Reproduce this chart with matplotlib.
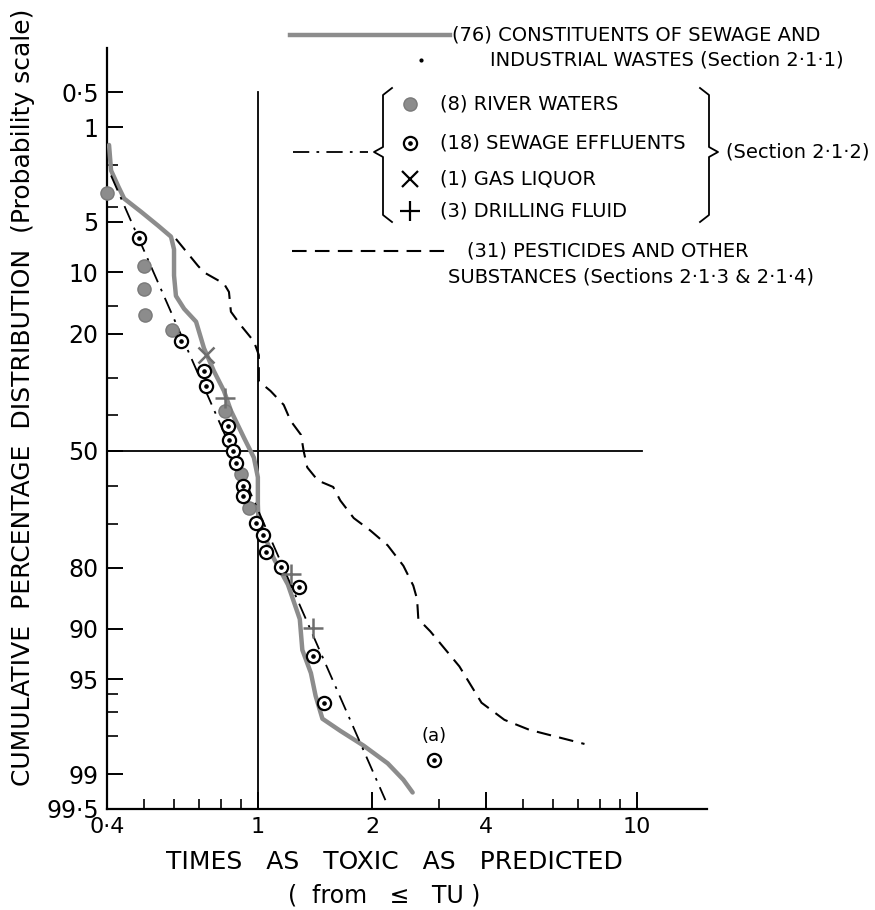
import math
import numpy as np
import matplotlib
matplotlib.use('Agg')
import matplotlib.pyplot as plt
from matplotlib.lines import Line2D
from matplotlib.ticker import NullFormatter

plt.rcParams['font.family'] = ['DejaVu Sans']

# ---- data (x = times as toxic, p = cumulative %) ----
river_x = [0.40, 0.50, 0.50, 0.505, 0.594, 0.82, 0.90, 0.95]
river_p = [3.2, 9.2, 12.2, 16.4, 19.2, 38.7, 56.8, 66.0]

sewage_x = [0.486, 0.627, 0.721, 0.73, 0.834, 0.839, 0.86, 0.875, 0.913,
            0.913, 0.988, 1.03, 1.05, 1.15, 1.28, 1.40, 1.49, 2.92]
sewage_p = [6.3, 21.6, 28.4, 32.1, 42.9, 46.9, 50.0, 53.4, 60.1,
            62.9, 69.9, 72.9, 76.6, 79.8, 83.6, 93.0, 96.5, 98.7]

gas_x = [0.73]
gas_p = [24.6]

drill_x = [0.82, 1.22, 1.40]
drill_p = [35.2, 81.2, 89.9]

const_x = [0.405, 0.410, 0.429, 0.444, 0.492, 0.546, 0.590, 0.601, 0.601,
           0.608, 0.639, 0.687, 0.721, 0.766, 0.814, 0.849, 0.919, 0.976,
           1.0, 1.0, 1.003, 1.037, 1.10, 1.20, 1.29, 1.31, 1.38, 1.42,
           1.48, 1.65, 1.90, 2.20, 2.42, 2.56]
const_p = [1.4, 2.2, 2.9, 3.5, 4.3, 5.3, 6.2, 7.4, 10.4,
           13.3, 15.4, 17.7, 23.1, 28.4, 33.4, 38.7, 46.3, 52.0,
           57.6, 65.0, 68.5, 72.6, 78.0, 83.2, 88.7, 92.4, 94.5, 96.1,
           97.3, 97.8, 98.3, 98.77, 99.1, 99.3]

fit_x = [0.41, 2.17]
fit_p = [2.4, 99.4]

pest_x = [0.608, 0.695, 0.721, 0.814, 0.839, 0.849, 0.902, 0.976, 1.006,
          1.006, 1.08, 1.17, 1.22, 1.30, 1.32, 1.35, 1.44, 1.58, 1.65,
          1.79, 1.98, 2.20, 2.42, 2.57, 2.63, 2.65, 2.85, 3.40, 3.89,
          4.47, 5.20, 7.27]
pest_p = [6.4, 9.2, 10.0, 11.5, 12.7, 15.9, 18.4, 21.6, 24.6,
          30.9, 33.4, 37.1, 41.5, 45.5, 50.0, 54.8, 58.5, 60.3, 64.0,
          68.6, 71.7, 75.2, 79.6, 83.4, 85.7, 88.7, 90.3, 93.95, 96.5,
          97.35, 97.76, 98.25]

y_major = [0.5, 1, 5, 10, 20, 50, 80, 90, 95, 99, 99.5]
y_major_lab = ['0·5', '1', '5', '10', '20', '50', '80', '90', '95', '99', '99·5']
y_minor = [2, 4, 15, 30, 40, 60, 70, 96, 97, 98]
x_major = [0.4, 1, 2, 4, 10]
x_major_lab = ['0·4', '1', '2', '4', '10']
x_minor = [0.5, 0.6, 0.7, 0.8, 0.9, 3, 5, 6, 7, 8, 9]


# probability (normal) scale
def _ppf(q):
    a = [-3.969683028665376e+01, 2.209460984245205e+02, -2.759285104469687e+02,
         1.383577518672690e+02, -3.066479806614716e+01, 2.506628277459239e+00]
    b = [-5.447609879822406e+01, 1.615858368580409e+02, -1.556989798598866e+02,
         6.680131188771972e+01, -1.328068155288572e+01]
    c = [-7.784894002430293e-03, -3.223964580411365e-01, -2.400758277161838e+00,
         -2.549671010229528e+00, 4.374664141464968e+00, 2.938163982698783e+00]
    d = [7.784695709041462e-03, 3.224671290700398e-01, 2.445134137142996e+00,
         3.754408661907416e+00]
    lo = 0.02425
    if q < lo:
        t = math.sqrt(-2 * math.log(q))
        return (((((c[0]*t+c[1])*t+c[2])*t+c[3])*t+c[4])*t+c[5]) / \
            ((((d[0]*t+d[1])*t+d[2])*t+d[3])*t+1)
    if q > 1 - lo:
        t = math.sqrt(-2 * math.log(1 - q))
        return -(((((c[0]*t+c[1])*t+c[2])*t+c[3])*t+c[4])*t+c[5]) / \
            ((((d[0]*t+d[1])*t+d[2])*t+d[3])*t+1)
    r = q - 0.5
    s = r * r
    return (((((a[0]*s+a[1])*s+a[2])*s+a[3])*s+a[4])*s+a[5])*r / \
        (((((b[0]*s+b[1])*s+b[2])*s+b[3])*s+b[4])*s+1)


_vppf = np.vectorize(_ppf, otypes=[float])
_verf = np.vectorize(math.erf, otypes=[float])


def pct_to_z(p):
    q = np.clip(np.asarray(p, dtype=float) / 100.0, 1e-9, 1 - 1e-9)
    return _vppf(q)


def z_to_pct(z):
    return 50.0 * (1 + _verf(np.asarray(z, dtype=float) / math.sqrt(2)))


W, H = 875, 910
fig = plt.figure(figsize=(W / 100, H / 100), dpi=100)


def fx(px):
    return px / W


def fy(py):
    return 1 - py / H


ax = fig.add_axes([fx(107), fy(809), fx(707) - fx(107), fy(48) - fy(809)])
ax.set_xscale('log')
ax.set_yscale('function', functions=(pct_to_z, z_to_pct))
ax.set_xlim(0.4, 15.3)
ax.set_ylim(99.5, 0.19)

for s in ['top', 'right']:
    ax.spines[s].set_visible(False)
for s in ['left', 'bottom']:
    ax.spines[s].set_linewidth(1.6)

ax.set_yticks(y_major)
ax.set_yticklabels(y_major_lab)
ax.set_yticks(y_minor, minor=True)
ax.set_xticks(x_major)
ax.set_xticklabels(x_major_lab)
ax.set_xticks(x_minor, minor=True)
ax.xaxis.set_minor_formatter(NullFormatter())
ax.yaxis.set_minor_formatter(NullFormatter())
ax.tick_params(axis='y', which='major', direction='in', length=11.5, width=1.4,
               labelsize=17, pad=6)
ax.tick_params(axis='y', which='minor', direction='in', length=8, width=1.2)
ax.tick_params(axis='x', which='major', direction='in', length=12.5, width=1.4,
               labelsize=16, pad=6)
ax.tick_params(axis='x', which='minor', direction='in', length=7, width=1.2)

# reference lines
ax.plot([1, 1], [0.5, 99.5], color='black', lw=1.3)
ax.plot([0.4, 10.3], [50, 50], color='black', lw=1.3)

# curves
ax.plot(const_x, const_p, color='#8c8c8c', lw=3.2, solid_capstyle='round', zorder=3)
ax.plot(fit_x, fit_p, color='black', lw=1.3, dashes=(9, 4, 1.5, 4), zorder=3)
ax.plot(pest_x, pest_p, color='black', lw=1.5, dashes=(7, 4), zorder=3)

# points
ax.plot(river_x, river_p, 'o', ms=9.5, mfc='#8c8c8c', mec='#7a7a7a', zorder=5,
        clip_on=False)
ax.plot(sewage_x, sewage_p, 'o', ms=9.5, mfc='white', mec='black', mew=1.6, zorder=5)
ax.plot(sewage_x, sewage_p, 'o', ms=2.3, color='black', zorder=6)
ax.plot(gas_x, gas_p, 'x', ms=12, mew=1.8, color='#6e6e6e', zorder=6)
ax.plot(drill_x, drill_p, '+', ms=15, mew=1.8, color='#6e6e6e', zorder=6)
ax.text(2.92, 98.0, '(a)', fontsize=13, ha='center', va='center')

# axis titles
fig.text(fx(23), fy(397), 'CUMULATIVE  PERCENTAGE  DISTRIBUTION  (Probability scale)',
         rotation=90, ha='center', va='center', fontsize=18)
fig.text(fx(394), fy(862), 'TIMES   AS   TOXIC   AS   PREDICTED', ha='center',
         va='center', fontsize=18)
fig.text(fx(384), fy(895), '(  from   ≤   TU )', ha='center', va='center',
         fontsize=17)

# legend, drawn by hand in figure pixels
def fline(xs, ys, **kw):
    fig.add_artist(Line2D([fx(v) for v in xs], [fy(v) for v in ys], **kw))


lg = 14
fline([290, 450], [35, 35], color='#8c8c8c', lw=3.2)
fig.text(fx(452), fy(35), '(76) CONSTITUENTS OF SEWAGE AND', va='center', fontsize=lg)
fig.text(fx(490), fy(60), 'INDUSTRIAL WASTES (Section 2·1·1)', va='center',
         fontsize=lg)
fline([421], [60], marker='o', ms=2, color='black', lw=0)

fline([293, 368], [152, 152], color='black', lw=1.3, dashes=(9, 4, 1.5, 4))
fline([392, 383, 383, 374, 383, 383, 392], [88, 95, 147, 152, 157, 215, 222],
      color='black', lw=1.3)
fline([700, 709, 709, 718, 709, 709, 700], [88, 95, 147, 152, 157, 215, 222],
      color='black', lw=1.3)
fig.text(fx(726), fy(152), '(Section 2·1·2)', va='center', fontsize=lg)

mx, tx = 410, 440
rows = [104, 143, 179, 211]
fline([mx], [rows[0]], marker='o', ms=9.5, mfc='#8c8c8c', mec='#7a7a7a', lw=0)
fline([mx], [rows[1]], marker='o', ms=9.5, mfc='white', mec='black', mew=1.6, lw=0)
fline([mx], [rows[1]], marker='o', ms=2.3, color='black', lw=0)
fline([mx], [rows[2]], marker='x', ms=12, mew=1.6, color='black', lw=0)
fline([mx], [rows[3]], marker='+', ms=15, mew=1.6, color='black', lw=0)
labels = ['(8) RIVER WATERS', '(18) SEWAGE EFFLUENTS', '(1) GAS LIQUOR',
          '(3) DRILLING FLUID']
for r, t in zip(rows, labels):
    fig.text(fx(tx), fy(r), t, va='center', fontsize=lg)

fline([292, 447], [251, 251], color='black', lw=1.5, dashes=(7, 4))
fig.text(fx(467), fy(251), '(31) PESTICIDES AND OTHER', va='center', fontsize=lg)
fig.text(fx(448), fy(277), 'SUBSTANCES (Sections 2·1·3 & 2·1·4)', va='center',
         fontsize=lg)

fig.savefig('out.png', dpi=100)
